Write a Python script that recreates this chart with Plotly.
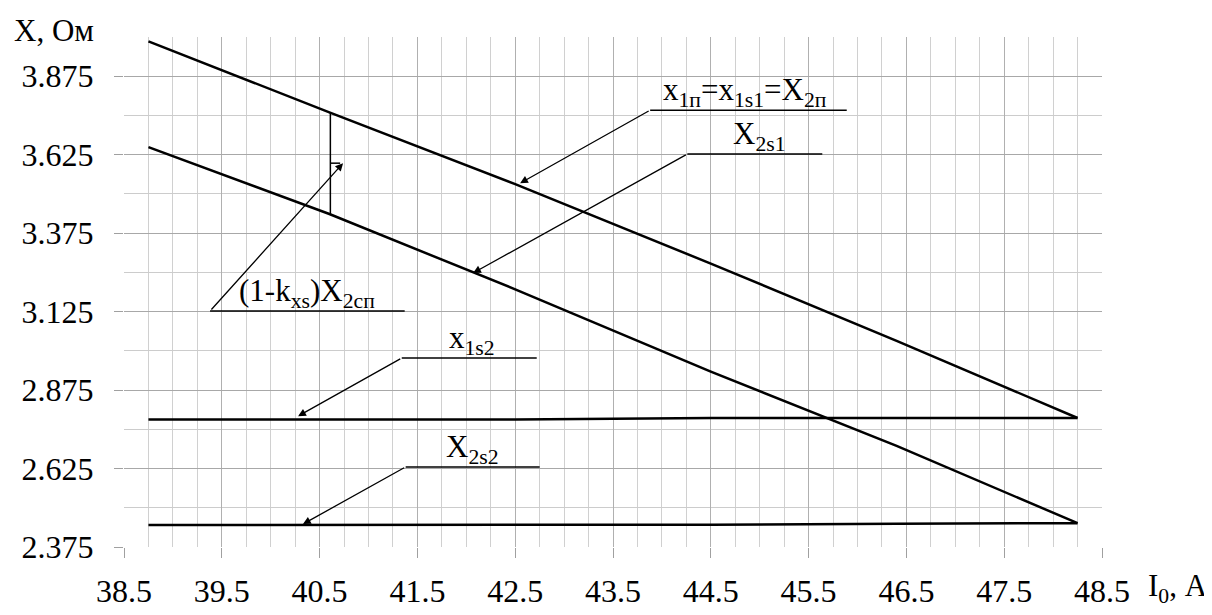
import numpy as np
import plotly.graph_objects as go

# dati
i0 = [38.75, 40.6, 42.5, 44.5, 46.4, 48.25]
x1n = [3.986, 3.760, 3.531, 3.278, 3.032, 2.786]
x2s1 = [3.649, 3.436, 3.196, 2.934, 2.697, 2.451]
x1s2 = [2.781, 2.781, 2.781, 2.786, 2.786, 2.786]
x2s2 = [2.445, 2.445, 2.445, 2.446, 2.449, 2.451]

y_ticks = [2.375, 2.625, 2.875, 3.125, 3.375, 3.625, 3.875]
x_ticks = [38.5, 39.5, 40.5, 41.5, 42.5, 43.5, 44.5, 45.5, 46.5, 47.5, 48.5]

FONT = "'Liberation Serif', 'Times New Roman', 'DejaVu Serif', serif"
fig = go.Figure()
for ys in (x1n, x2s1, x1s2, x2s2):
    fig.add_trace(go.Scatter(x=i0, y=ys, mode="lines",
                             line=dict(color="black", width=2.5), showlegend=False))

# parentesi (1-kxs)X2cn
xb = 40.61
y_top = float(np.interp(xb, i0, x1n))
y_bot = float(np.interp(xb, i0, x2s1))
y_mid = 3.598
fig.add_trace(go.Scatter(x=[xb, xb], y=[y_top, y_bot], mode="lines",
                         line=dict(color="black", width=1.5), showlegend=False))
fig.add_trace(go.Scatter(x=[xb, xb + 0.1], y=[y_mid, y_mid], mode="lines",
                         line=dict(color="black", width=1.5), showlegend=False))

# etichette: (testo, x testo, underline x0, x1, y, punta x, punta y)
labels = [
    ("x<sub>1п</sub>=x<sub>1s1</sub>=X<sub>2п</sub>", 44.85, 43.88, 45.89, 3.767, 42.55, 3.534),
    ("X<sub>2s1</sub>", 45.0, 44.26, 45.64, 3.627, 42.07, 3.248),
    ("(1-k<sub>xs</sub>)X<sub>2сп</sub>", 40.37, 39.38, 41.37, 3.127, xb + 0.13, y_mid),
    ("x<sub>1s2</sub>", 42.06, 41.34, 42.72, 2.977, 40.28, 2.792),
    ("X<sub>2s2</sub>", 42.06, 41.38, 42.75, 2.630, 40.33, 2.448),
]
for txt, tx, u0, u1, uy, px, py in labels:
    fig.add_shape(type="line", x0=u0, x1=u1, y0=uy, y1=uy,
                  line=dict(color="black", width=1.5))
    fig.add_annotation(x=px, y=py, ax=u0, ay=uy, axref="x", ayref="y", text="",
                       showarrow=True, arrowhead=2, arrowsize=1.2, arrowwidth=1.3,
                       arrowcolor="black", startstandoff=0, standoff=0)
    fig.add_annotation(x=tx, y=uy, text=txt, showarrow=False, yanchor="bottom",
                       yshift=-4, font=dict(family=FONT, size=31, color="black"))

fig.add_annotation(xref="paper", yref="paper", x=-0.072, y=1.012, text="X, Ом",
                   xanchor="center", yanchor="middle",
                   showarrow=False, font=dict(family=FONT, size=31, color="black"))
fig.add_annotation(xref="paper", yref="paper", x=1.078, y=-0.08, text="I<sub>0</sub>, А",
                   xanchor="center", yanchor="middle",
                   showarrow=False, font=dict(family=FONT, size=31, color="black"))

fig.update_xaxes(range=[38.5, 48.5], tickvals=x_ticks, ticktext=[f"{v:.1f}" for v in x_ticks],
                 ticks="outside", ticklen=10, tickcolor="#a0a0a0", ticklabelstandoff=6,
                 showgrid=True, gridcolor="#b0b0b0", gridwidth=1.2, automargin=False,
                 minor=dict(dtick=0.25, tick0=38.5, showgrid=True, gridcolor="#d0d0d0", gridwidth=1),
                 showline=False, zeroline=False,
                 tickfont=dict(family=FONT, size=32, color="black"))
fig.update_yaxes(range=[2.375, 4.0], tickvals=y_ticks, ticktext=[f"{v:.3f}" for v in y_ticks],
                 ticks="outside", ticklen=9, tickcolor="#a0a0a0", ticklabelstandoff=14,
                 showgrid=True, gridcolor="#a8a8a8", gridwidth=1.2, automargin=False,
                 minor=dict(dtick=0.125, tick0=2.375, showgrid=True, gridcolor="#cccccc", gridwidth=1),
                 showline=False, zeroline=False,
                 tickfont=dict(family=FONT, size=32, color="black"))
fig.update_layout(width=1204, height=607, plot_bgcolor="white", paper_bgcolor="white",
                  margin=dict(l=116, r=110, t=29, b=68))
fig.write_html("out.html")
